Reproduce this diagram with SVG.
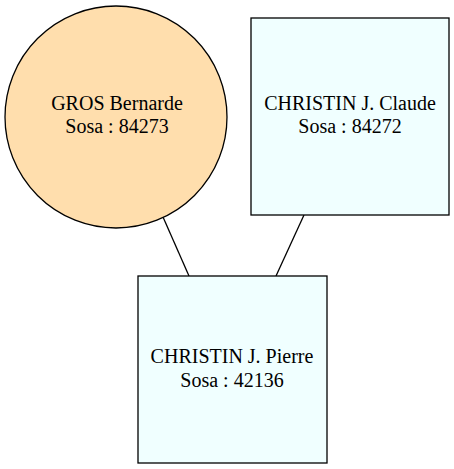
<svg xmlns="http://www.w3.org/2000/svg" width="454" height="469" viewBox="0 0 454 469">
<style>
.n{stroke:#000;stroke-width:1.3}
.p{fill:#f0ffff}
.f{fill:#ffdead}
text{font-family:"Liberation Serif","Times New Roman",serif;font-size:20px;text-anchor:middle;fill:#000}
.e{stroke:#000;stroke-width:1.3;fill:none}
</style>
<rect width="454" height="469" fill="#fff"/>
<g id="edges">
<line class="e" x1="163" y1="217" x2="189" y2="276"/>
<line class="e" x1="304" y1="215" x2="276" y2="276"/>
</g>
<g id="node_84273">
<ellipse class="n f" cx="116" cy="117" rx="111" ry="111"/>
<text x="117" y="110">GROS Bernarde</text>
<text x="117" y="133">Sosa : 84273</text>
</g>
<g id="node_84272">
<rect class="n p" x="251" y="18" width="198" height="197"/>
<text x="350" y="110">CHRISTIN J. Claude</text>
<text x="350" y="133">Sosa : 84272</text>
</g>
<g id="node_42136">
<rect class="n p" x="138" y="276" width="189" height="187"/>
<text x="232" y="363">CHRISTIN J. Pierre</text>
<text x="232" y="387">Sosa : 42136</text>
</g>
</svg>
